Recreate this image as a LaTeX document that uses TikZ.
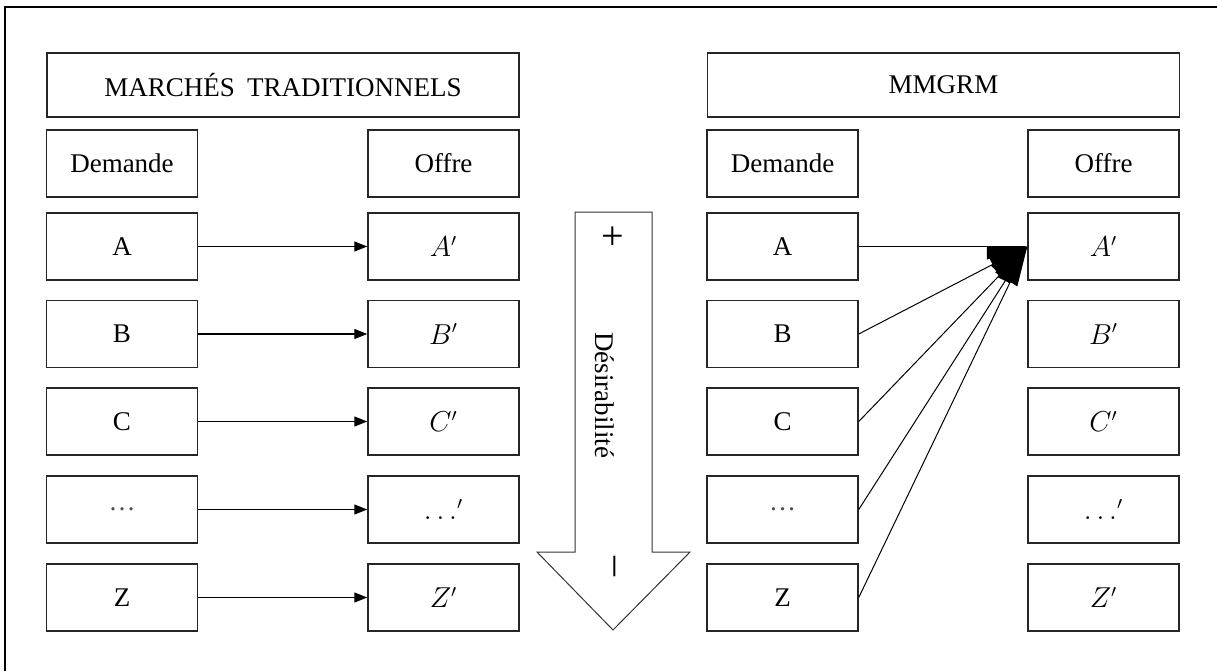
\documentclass[tikz,border=0pt]{standalone}
\usepackage{fontspec}
\setmainfont{Liberation Serif}
\usetikzlibrary{arrows.meta}

\begin{document}
\begin{tikzpicture}[x=0.5pt, y=-0.5pt,
        cell/.style={draw=black!85, line width=0.75pt, minimum width=75.5pt, minimum height=33.5pt, inner sep=0pt, font=\fontsize{13.5}{16}\selectfont},
        head/.style={cell, minimum width=236pt, minimum height=32pt},
        link/.style={line width=0.6pt, -{Triangle[length=6.5pt, width=5pt]}},
        fan/.style={line width=0.5pt, -{Triangle[length=19.5pt, width=13pt]}}]

            \useasboundingbox (0,0) rectangle (1217,671);
            \draw[line width=1.3pt] (5,671) -- (5,7) -- (1217,7);

            % marches traditionnels
            \node[head] (thead) at (283,85) {MARCHÉS\hspace{0.2em} TRADITIONNELS};
            \node[cell] (td) at (122,163.5) {Demande};
            \node[cell] (to) at (443.5,163.5) {Offre};
            \node[cell] (tdA) at (122,246.5) {A};
            \node[cell] (tdB) at (122,334) {B};
            \node[cell] (tdC) at (122,421.5) {C};
            \node[cell, text=black!70] (tdX) at (122,509.5) {\dots};
            \node[cell] (tdZ) at (122,597.5) {Z};
            \node[cell] (toA) at (443.5,246.5) {$A'$};
            \node[cell] (toB) at (443.5,334) {$B'$};
            \node[cell] (toC) at (443.5,421.5) {$C'$};
            \node[cell] (toX) at (443.5,509.5) {$\ldots'$};
            \node[cell] (toZ) at (443.5,597.5) {$Z'$};

            \draw[link] (tdA) -- (toA);
            \draw[link] (tdB) -- (toB);
            \draw[link] (tdC) -- (toC);
            \draw[link] (tdX) -- (toX);
            \draw[link] (tdZ) -- (toZ);

            % fleche desirabilite
            \draw[draw=black!80, line width=0.5pt] (575,212) -- (652,212) -- (652,552) -- (690,552) -- (613,630) -- (537,552) -- (575,552) -- cycle;
            \node[font=\fontsize{20}{24}\selectfont] (plus) at (613,238) {+};
            \node[rotate=-90, font=\fontsize{13.5}{16}\selectfont] (desir) at (605,395) {Désirabilité};
            \node[rotate=-90, font=\fontsize{20}{24}\selectfont] (minus) at (611,566) {–};

            % MMGRM
            \node[head] (mhead) at (943.5,85) {MMGRM};
            \node[cell] (md) at (782.5,163.5) {Demande};
            \node[cell] (mo) at (1103.5,163.5) {Offre};
            \node[cell] (mdA) at (782.5,246.5) {A};
            \node[cell] (mdB) at (782.5,334) {B};
            \node[cell] (mdC) at (782.5,421.5) {C};
            \node[cell, text=black!70] (mdX) at (782.5,509.5) {\dots};
            \node[cell] (mdZ) at (782.5,597.5) {Z};
            \node[cell] (moA) at (1103.5,246.5) {$A'$};
            \node[cell] (moB) at (1103.5,334) {$B'$};
            \node[cell] (moC) at (1103.5,421.5) {$C'$};
            \node[cell] (moX) at (1103.5,509.5) {$\ldots'$};
            \node[cell] (moZ) at (1103.5,597.5) {$Z'$};

            \draw[fan, -{Triangle[right, length=19.5pt, width=13pt]}] (mdA) -- (moA);
            \draw[fan] (mdB.east) -- (moA.west);
            \draw[fan] (mdC.east) -- (moA.west);
            \draw[fan] (mdX.east) -- (moA.west);
            \draw[fan, -{Triangle[left, length=19.5pt, width=13pt]}] (mdZ.east) -- (moA.west);

        \end{tikzpicture}
\end{document}
